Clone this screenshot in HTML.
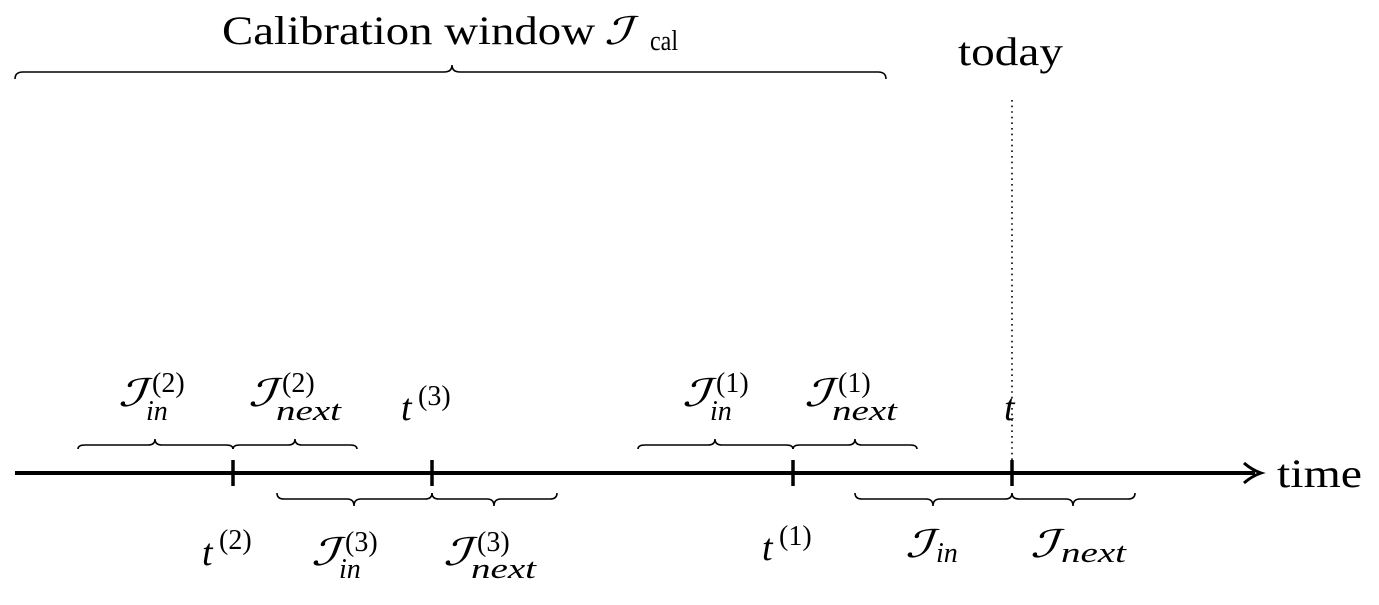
<!DOCTYPE html>
<html><head><meta charset="utf-8"><style>
html,body{margin:0;padding:0;background:#fff;}
svg{display:block;}
text{font-family:"Liberation Serif","DejaVu Serif",serif;fill:#000;}
.m{font-size:38px;}
.i{font-style:italic;}
.s{font-size:28px;}
.b{font-size:38px;font-style:italic;}
</style></head><body>
<svg width="1379" height="605" viewBox="0 0 1379 605" xmlns="http://www.w3.org/2000/svg">
<g fill="none" stroke="#000" stroke-width="1.6">
<path d="M15,79 Q15,72 23,72 L444,72 Q452,72 452,65 Q452,72 460,72 L878,72 Q886,72 886,79"/>
<path d="M78,449 Q78,445 85,445 L148,445 Q155,445 155,439 Q155,445 162,445 L226,445 Q233,445 233,449"/>
<path d="M233,449 Q233,445 240,445 L288,445 Q295,445 295,439 Q295,445 302,445 L350,445 Q357,445 357,449"/>
<path d="M638,449 Q638,445 645,445 L708,445 Q715,445 715,439 Q715,445 722,445 L786,445 Q793,445 793,449"/>
<path d="M793,449 Q793,445 800,445 L848,445 Q855,445 855,439 Q855,445 862,445 L910,445 Q917,445 917,449"/>
<path d="M277,493 Q277,499 284,499 L347,499 Q354,499 354,506 Q354,499 361,499 L425,499 Q432,499 432,493"/>
<path d="M432,493 Q432,499 439,499 L487,499 Q494,499 494,506 Q494,499 501,499 L550,499 Q557,499 557,493"/>
<path d="M855,493 Q855,499 862,499 L926,499 Q933,499 933,506 Q933,499 940,499 L1005,499 Q1012,499 1012,493"/>
<path d="M1012,493 Q1012,499 1019,499 L1066,499 Q1073,499 1073,506 Q1073,499 1080,499 L1128,499 Q1135,499 1135,493"/>
</g>
<line x1="1012" y1="100" x2="1012" y2="473" stroke="#000" stroke-width="1.6" stroke-dasharray="1.6,4"/>
<line x1="15" y1="473" x2="1255" y2="473" stroke="#000" stroke-width="4"/>
<path d="M1244,463 Q1252,470 1261,473 Q1252,476 1244,483" fill="none" stroke="#000" stroke-width="3"/>
<g stroke="#000" stroke-width="3.5">
<line x1="233" y1="460" x2="233" y2="486"/>
<line x1="432" y1="460" x2="432" y2="486"/>
<line x1="793" y1="460" x2="793" y2="486"/>
<line x1="1012" y1="460" x2="1012" y2="486"/>
</g>
<text x="222" y="44" style="font-size:40px" textLength="373" lengthAdjust="spacingAndGlyphs">Calibration window</text>
<text class="b" transform="translate(604,44) scale(1.5,1)">ℐ</text>
<text x="650" y="50" style="font-size:28px" textLength="28" lengthAdjust="spacingAndGlyphs">cal</text>
<text x="958" y="65" style="font-size:40px" textLength="105" lengthAdjust="spacingAndGlyphs">today</text>
<text x="1277" y="487" style="font-size:40px" textLength="85" lengthAdjust="spacingAndGlyphs">time</text>
<!-- upper labels -->
<text class="b" transform="translate(118,406) scale(1.5,1)">ℐ</text><text x="152" y="392" class="s">(2)</text><text x="146" y="420" class="s i">in</text>
<text class="b" transform="translate(248,406) scale(1.5,1)">ℐ</text><text x="282" y="392" class="s">(2)</text><text x="276" y="420" class="s i" textLength="65" lengthAdjust="spacingAndGlyphs">next</text>
<text x="401" y="420" class="m i">t</text><text x="418" y="405" class="s">(3)</text>
<text class="b" transform="translate(682,406) scale(1.5,1)">ℐ</text><text x="716" y="392" class="s">(1)</text><text x="710" y="420" class="s i">in</text>
<text class="b" transform="translate(804,406) scale(1.5,1)">ℐ</text><text x="838" y="392" class="s">(1)</text><text x="832" y="420" class="s i" textLength="65" lengthAdjust="spacingAndGlyphs">next</text>
<text x="1004" y="420" class="m i">t</text>
<!-- lower labels -->
<text x="202" y="565" class="m i">t</text><text x="219" y="549" class="s">(2)</text>
<text class="b" transform="translate(311,565) scale(1.5,1)">ℐ</text><text x="345" y="551" class="s">(3)</text><text x="339" y="578" class="s i">in</text>
<text class="b" transform="translate(443,565) scale(1.5,1)">ℐ</text><text x="477" y="551" class="s">(3)</text><text x="471" y="578" class="s i" textLength="65" lengthAdjust="spacingAndGlyphs">next</text>
<text x="762" y="560" class="m i">t</text><text x="779" y="545" class="s">(1)</text>
<text class="b" transform="translate(905,557) scale(1.5,1)">ℐ</text><text x="936" y="562" class="s i">in</text>
<text class="b" transform="translate(1030,557) scale(1.5,1)">ℐ</text><text x="1061" y="562" class="s i" textLength="65" lengthAdjust="spacingAndGlyphs">next</text>
</svg>
</body></html>
